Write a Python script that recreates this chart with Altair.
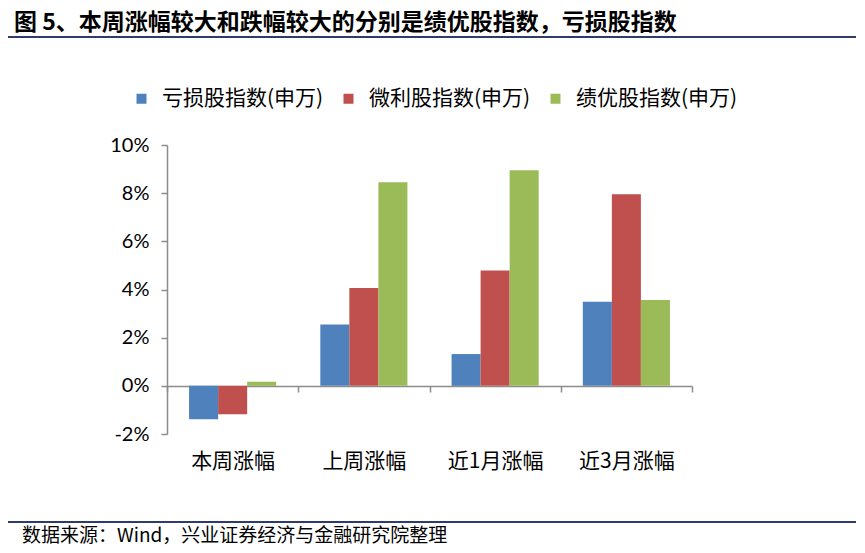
import altair as alt
import pandas as pd

categories = ["本周涨幅", "上周涨幅", "近1月涨幅", "近3月涨幅"]
series = ["亏损股指数(申万)", "微利股指数(申万)", "绩优股指数(申万)"]
loss = [-0.0139, 0.0255, 0.0132, 0.0349]
micro = [-0.0118, 0.0406, 0.0479, 0.0795]
good = [0.0017, 0.0845, 0.0895, 0.0356]
colors = ["#4F81BD", "#C0504D", "#9BBB59"]
y_ticks = [-0.02, 0.0, 0.02, 0.04, 0.06, 0.08, 0.10]
title_text = "图 5、本周涨幅较大和跌幅较大的分别是绩优股指数，亏损股指数"
source_text = "数据来源：Wind，兴业证券经济与金融研究院整理"

rows = []
for s, vals in zip(series, [loss, micro, good]):
    for c, v in zip(categories, vals):
        rows.append({"cat": c, "series": s, "value": v})
df = pd.DataFrame(rows)

W, H = 525, 289
CJK = "Noto Sans CJK SC"

bars = alt.Chart(df).mark_bar().encode(
    x=alt.X("cat:N", sort=categories, title=None,
            scale=alt.Scale(paddingInner=0, paddingOuter=0),
            axis=alt.Axis(orient="bottom", offset=-48, tickBand="extent", labelAngle=0,
                          domainColor="#8c8c8c", domainWidth=1.5, tickColor="#8c8c8c",
                          tickSize=6, tickWidth=1.5, labelPadding=58,
                          labelFont=CJK, labelFontSize=21, labelColor="#000")),
    xOffset=alt.XOffset("series:N", sort=series,
                        scale=alt.Scale(paddingInner=0, paddingOuter=0.76)),
    y=alt.Y("value:Q", title=None,
            scale=alt.Scale(domain=[-0.02, 0.10], nice=False, zero=False),
            axis=alt.Axis(values=y_ticks, format=".0%", grid=False,
                          labelExpr="replace(datum.label, '\u2212', '-')",
                          domainColor="#8c8c8c", domainWidth=1.5, tickColor="#8c8c8c",
                          tickSize=6, tickWidth=1.5, labelPadding=12,
                          labelFont="Lato", labelFontSize=20, labelColor="#000")),
    color=alt.Color("series:N", sort=series, title=None,
                    scale=alt.Scale(domain=series, range=colors),
                    legend=alt.Legend(orient="none", direction="horizontal",
                                      legendX=-36, legendY=-57,
                                      symbolType="square", symbolSize=100,
                                      symbolStrokeWidth=0, labelOffset=10,
                                      columnPadding=14, labelLimit=400,
                                      labelFont=CJK, labelFontSize=21,
                                      labelColor="#000")),
)

deco = pd.DataFrame({"t": [title_text]})
title = alt.Chart(deco).mark_text(align="left", baseline="middle", font=CJK,
                                  fontSize=23, fontWeight="bold", color="#000").encode(
    x=alt.value(-153), y=alt.value(-122), text="t:N")
src = pd.DataFrame({"t": [source_text]})
footer = alt.Chart(src).mark_text(align="left", baseline="middle", font=CJK,
                                  fontSize=19, color="#000").encode(
    x=alt.value(-145), y=alt.value(391), text="t:N")
line_top = alt.Chart(deco).mark_rule(color="#2F3C6B", strokeWidth=2).encode(
    x=alt.value(-162), x2=alt.value(689), y=alt.value(-108))
line_bot = alt.Chart(deco).mark_rule(color="#2F3C6B", strokeWidth=2).encode(
    x=alt.value(-162), x2=alt.value(689), y=alt.value(377))

chart = alt.layer(bars, title, footer, line_top, line_bot).properties(
    width=W, height=H,
    background="white",
    autosize=alt.AutoSizeParams(type="none"),
    padding={"left": 159, "top": 137, "right": 164, "bottom": 112},
).configure_view(stroke=None, strokeWidth=0)

chart.save("out.html", embed_options={"renderer": "svg", "actions": False})
